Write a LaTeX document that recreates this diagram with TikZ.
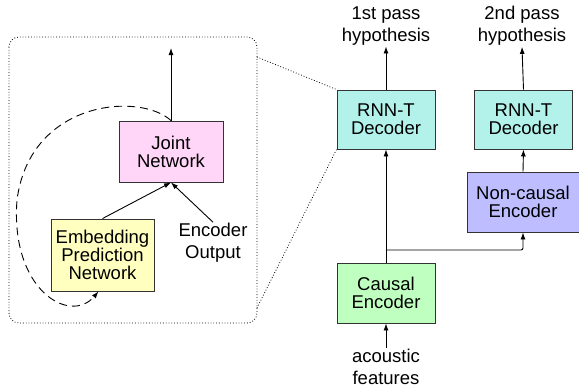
\documentclass[tikz,border=0pt]{standalone}
\usepackage{fontspec}
\setmainfont{Liberation Sans}
\usetikzlibrary{arrows.meta}

\definecolor{jointpink}{HTML}{FFD5F8}
\definecolor{embedyellow}{HTML}{FFFFC0}
\definecolor{deccyan}{HTML}{B3F2EA}
\definecolor{noncausalblue}{HTML}{BDBDFF}
\definecolor{causalgreen}{HTML}{BFFFBF}

\tikzset{
	block/.style={draw=black!80, line width=0.9pt, align=center, inner sep=0pt,
		font=\fontsize{18.5}{18}\selectfont},
	plaintext/.style={align=center, inner sep=1pt, font=\fontsize{18.5}{22}\selectfont},
	link/.style={line width=0.9pt, -{Latex[length=7pt,width=5pt]}},
	feedback/.style={line width=0.9pt, dash pattern=on 8pt off 5pt, -{Latex[length=7pt,width=5pt]}},
	zoomline/.style={dotted, line width=0.8pt},
}

\begin{document}
\begin{tikzpicture}[x=1pt, y=-1pt]
			\useasboundingbox (0,0) rectangle (579,388);
			
			% inside of the first pass decoder
			\draw[zoomline, rounded corners=10pt] (9,37) rectangle (257,323);
			\coordinate (zt) at (257,57);
			\coordinate (zb) at (257,308);
			\coordinate (jointout) at (171,48);
			
			\node[block, fill=jointpink, minimum width=104pt, minimum height=61pt] (joint) at (171,151.5) {Joint\\Network};
			\node[block, fill=embedyellow, minimum width=103pt, minimum height=72pt] (embed) at (102.5,255) {Embedding\\Prediction\\Network};
			\node[plaintext] (encout) at (213,243) {Encoder\\Output};
			
			\draw[link] (joint.north) -- (jointout);
			\draw[link] (embed.north) -- (joint.south);
			\draw[link] (encout.north) -- (joint.south);
			\draw[feedback] (joint.north) .. controls (140,92) and (30,100) .. (17,200)
				.. controls (10,290) and (70,325) .. ([xshift=-4pt]embed.south);
			
			% two pass model
			\node[block, fill=deccyan, minimum width=98pt, minimum height=59pt] (dec1) at (386,119.5) {RNN-T\\Decoder};
			\node[block, fill=deccyan, minimum width=98pt, minimum height=59pt] (dec2) at (523.5,119.5) {RNN-T\\Decoder};
			\node[block, fill=noncausalblue, minimum width=112pt, minimum height=60pt] (noncausal) at (523,202) {Non-causal\\Encoder};
			\node[block, fill=causalgreen, minimum width=98pt, minimum height=60pt] (causal) at (386,293) {Causal\\Encoder};
			
			\node[plaintext] (hyp1) at (386,26) {1st pass\\hypothesis};
			\node[plaintext] (hyp2) at (522,26) {2nd pass\\hypothesis};
			\node[plaintext] (feats) at (386,367) {acoustic\\features};
			\coordinate (split) at (386,250);
			
			\draw[link] (dec1.north) -- (hyp1.south);
			\draw[link] (dec2.north) -- (hyp2.south);
			\draw[link] (causal.north) -- (dec1.south);
			\draw[link] (noncausal.north) -- (dec2.south);
			\draw[link] (feats.north) -- (causal.south);
			\draw[link, rounded corners=2pt] (split) -| (noncausal.south);
			
			\draw[zoomline] (zt) -- (dec1.north west);
			\draw[zoomline] (zb) -- (dec1.south west);
\end{tikzpicture}
\end{document}
